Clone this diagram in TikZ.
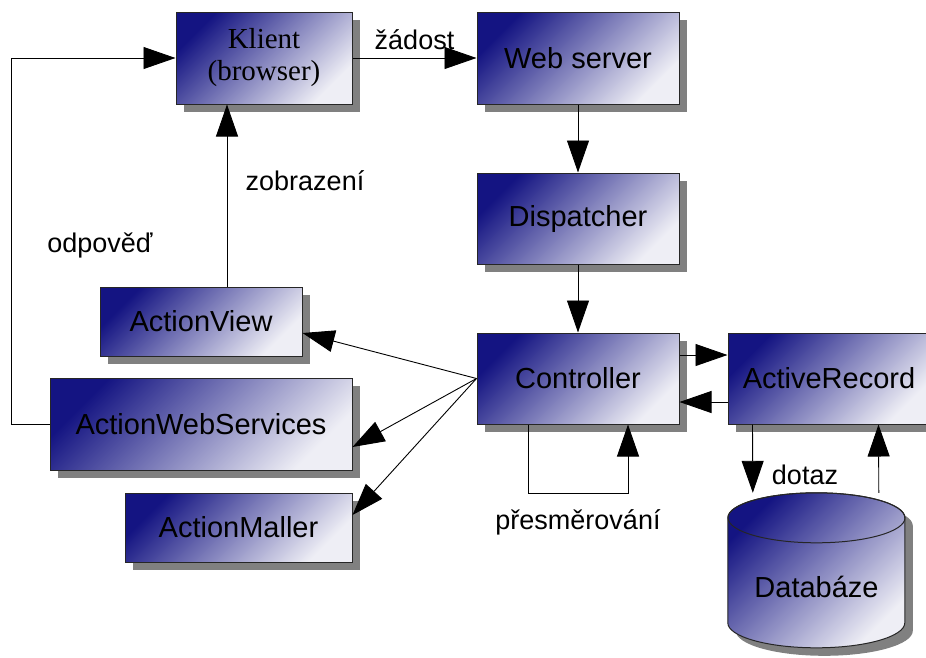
\documentclass[tikz,border=0pt]{standalone}
\usepackage{fontspec}
\setmainfont{Liberation Sans}
\newfontfamily\klientfont{Liberation Serif}
\usetikzlibrary{arrows.meta,shadows}
\definecolor{boxdark}{RGB}{20,20,130}
\definecolor{boxlight}{RGB}{238,238,245}
\definecolor{shadowgray}{RGB}{128,128,128}
\tikzset{
  box/.style={draw=black!85, line width=1pt, inner sep=0pt,
    top color=boxdark, bottom color=boxlight, shading angle=45,
    drop shadow={shadow xshift=8pt, shadow yshift=-8pt, fill=shadowgray, opacity=1},
    font=\fontsize{29}{32}\selectfont},
  arr/.style={-{Triangle[length=32pt,width=22pt]}, line width=0.9pt},
  lbl/.style={font=\fontsize{27}{32}\selectfont, inner sep=2pt},
}
\begin{document}
\begin{tikzpicture}[x=1pt,y=1pt]
  \useasboundingbox (0,0) rectangle (926,-657);
  % boxes
  \node[box, minimum width=176pt, minimum height=92pt, align=center,
        font=\klientfont\fontsize{29}{32}\selectfont] (klient) at (264,-58) {Klient\\(browser)};
  \node[box, minimum width=202pt, minimum height=92pt] (web) at (578,-58) {Web server};
  \node[box, minimum width=202pt, minimum height=91pt] (disp) at (578,-218.5) {Dispatcher};
  \node[box, minimum width=202pt, minimum height=91pt] (ctrl) at (578,-378.5) {Controller};
  \node[box, minimum width=202pt, minimum height=91pt] (ar) at (829,-378.5) {ActiveRecord};
  \node[box, minimum width=202pt, minimum height=69pt] (av) at (201,-321.5) {ActionView};
  \node[box, minimum width=302pt, minimum height=92pt] (aws) at (201,-424) {ActionWebServices};
  \node[box, minimum width=227pt, minimum height=69pt] (am) at (238.5,-527.5) {ActionMaller};
  % database
  \node[minimum width=177pt, minimum height=155pt, inner sep=0pt] (db) at (816.5,-570.5) {};
  \fill[shadowgray] ([shift={(8pt,-8pt)}]db.north west) ++(0,-25) -- ++(0,-105)
    arc[start angle=180, end angle=360, x radius=88.5pt, y radius=25pt] -- ++(0,105)
    arc[start angle=0, end angle=180, x radius=88.5pt, y radius=25pt] -- cycle;
  \shadedraw[top color=boxdark, bottom color=boxlight, shading angle=45, draw=black!85, line width=1pt]
    ([yshift=-25pt]db.north west) -- ++(0,-105)
    arc[start angle=180, end angle=360, x radius=88.5pt, y radius=25pt] -- ++(0,105)
    arc[start angle=0, end angle=180, x radius=88.5pt, y radius=25pt] -- cycle;
  \draw[black!85, line width=1pt] ([yshift=-25pt]db.north) ellipse [x radius=88.5pt, y radius=25pt];
  \node[font=\fontsize{29}{32}\selectfont] (dbtext) at (816.5,-587) {Databáze};
  % request path
  \draw[arr] (klient) -- node[lbl, above=6pt]{žádost} (web);
  \draw[arr] (web) -- (disp);
  \draw[arr] (disp) -- (ctrl);
  % responses
  \draw[arr] ([xshift=26pt]av.north) -- ([xshift=26pt]av.north |- klient.south);
  \node[lbl] (zobr) at (305,-181) {zobrazení};
  \draw[arr] (aws.west) -- ++(-38,0) |- (klient.west);
  \node[lbl] (odp) at (100,-245) {odpověď};
  % controller fan
  \draw[arr] (ctrl.west) -- ([yshift=-11.5pt]av.east);
  \draw[arr] (ctrl.west) -- ([yshift=-23pt]aws.east);
  \draw[arr] (ctrl.west) -- ([yshift=12.5pt]am.east);
  % controller <-> model
  \draw[arr] ([yshift=23.5pt]ctrl.east) -- ([yshift=23.5pt]ar.west);
  \draw[arr] ([yshift=-23.5pt]ar.west) -- ([yshift=-23.5pt]ctrl.east);
  \draw[arr] ([xshift=-50pt]ctrl.south) -- ++(0,-69) -| ([xshift=50pt]ctrl.south);
  \node[lbl] (presm) at (578,-522) {přesměrování};
  % model <-> database
  \draw[arr] ([xshift=25pt]ar.south west) -- ([xshift=25pt]db.north west);
  \node[lbl] (dotaz) at (805,-475) {dotaz};
  \draw[arr] ([xshift=151pt]db.north west) -- ([xshift=151pt]ar.south west);
\end{tikzpicture}
\end{document}
